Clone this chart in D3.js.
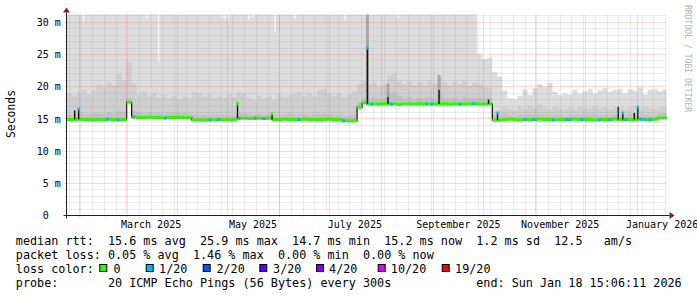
<!DOCTYPE html>
<html><head><meta charset="utf-8">
<script src="https://cdn.jsdelivr.net/npm/d3@7"></script>
<style>
html,body{margin:0;padding:0;background:#fff;}
svg{display:block;}
text{font-family:"DejaVu Sans Mono",monospace;white-space:pre;}
</style></head><body>
<svg id="c" width="697" height="297"></svg>
<script>
// ---------------- data ----------------
const startTime = new Date(2025,0,24,8,0,0);
const endTime = new Date(2026,0,18,15,6,11);
const binDays = 3;

const medianRtt = [
14.9,14.9,14.95,14.9,14.9,14.85,14.9,14.9,14.95,14.9,14.85,14.9,
17.6,
15.3,15.2,15.2,15.25,15.2,15.2,15.15,15.2,15.2,15.25,15.2,15.2,
14.85,14.85,14.8,14.85,14.85,14.9,14.85,14.85,14.9,
15.1,15.1,15.05,15.1,15.1,15.05,15.1,
14.9,14.9,14.95,14.9,14.9,14.9,14.95,14.9,14.9,14.9,14.9,14.95,14.9,14.9,
14.7,14.7,14.7,
16.8,17.5,
17.3,17.3,17.3,17.35,17.3,17.3,17.25,17.3,17.3,17.3,17.35,17.3,17.3,17.3,17.3,17.35,17.3,17.3,17.3,17.3,17.3,17.35,17.3,17.3,17.3,
14.8,14.8,
14.9,14.95,14.9,14.85,14.9,14.9,14.9,14.95,14.9,14.9,14.85,14.9,14.9,14.9,14.95,14.9,14.9,14.9,14.85,14.9,14.9,14.9,14.95,14.9,14.9,14.9,14.9,14.95,14.9,14.9,14.95,
15.15,15.15
];

const smokeMax = [
32,32,32,32,32,32,32,32,32,32, 32,32,32,32,32,32,32,32,32,32,
32,32,32,32,32,32,32,32,32,32, 32,32,32,32,32,32,32,32,32,32,
32,32,32,32,32,32,32,32,32,32, 32,32,32,32,32,32,32,32,32,32,
32,32,32,32,32,32,32,32,32,32, 32,32,32,32,32,32,32,32,32,32,
32,32,25.0,24.3,24.5,22.3,21.6,19.4,18.2,18.0,
18.6,19.6,18.8,19.8,20.4,20.0,20.6,19.2,18.7,19.0,
18.8,19.5,18.9,19.3,19.6,18.9,19.4,19.8,19.2,19.5,
19.7,19.0,19.6,19.4,19.9,18.8,19.5,19.7,19.3,19.6
];

const smokeMid = [
19.0,18.6,19.2,19.5,18.8,19.4,20.3,20.0,20.6,20.2,
22.0,21.0,23.8,20.5,18.8,19.2,18.5,18.9,18.3,18.7,
18.2,18.6,18.0,18.5,18.3,19.2,19.0,18.4,18.7,18.2,
18.6,18.3,18.8,18.4,19.1,19.0,18.3,18.0,18.6,18.2,
18.5,18.0,18.8,18.4,18.7,18.9,19.2,18.6,19.0,18.5,
19.5,19.6,18.9,18.6,18.9,18.4,18.7,19.3,20.5,21.0,
20.3,20.6,20.0,20.4,21.8,22.0,20.8,20.4,20.9,20.2,
20.7,20.3,21.0,20.5,21.5,20.6,20.2,20.8,20.4,20.9,
20.1,20.6,20.4,20.0,19.8,16.2,16.4,16.8,16.5,16.3,
16.9,16.6,17.1,16.7,17.2,16.8,16.5,16.9,16.6,16.4,
16.8,16.5,16.9,16.6,16.7,17.0,16.6,16.8,16.5,16.9,
16.7,16.4,16.8,17.0,16.6,16.9,16.7,16.5,16.8,16.9
];

const smokeInner = [
15.6,15.7,15.8,15.6,15.7,15.9,15.8,15.7,16.0,15.8,
16.2,16.0,18.2,16.3,15.9,15.8,16.0,15.8,15.9,15.8,
15.9,15.8,15.9,16.0,15.8,15.6,15.5,15.6,15.5,15.6,
15.5,15.6,15.5,15.6,15.9,15.8,15.7,15.6,15.7,15.6,
15.7,15.6,15.5,15.6,15.7,15.6,15.7,15.6,15.5,15.6,
15.7,15.8,15.6,15.5,15.6,15.4,15.5,15.6,17.6,18.3,
18.2,18.4,18.1,18.3,19.0,19.2,18.6,18.2,18.4,18.1,
18.3,18.2,18.4,18.1,18.8,18.3,18.2,18.3,18.1,18.4,
18.2,18.3,18.2,18.1,18.3,15.5,15.6,15.7,15.5,15.4,
15.6,15.5,15.7,15.6,15.6,15.5,15.4,15.6,15.5,15.4,
15.6,15.5,15.6,15.5,15.6,15.7,15.5,15.6,15.5,15.6,
15.5,15.4,15.6,15.7,15.5,15.6,15.5,15.4,15.8,15.9
];

// short excursions of the median (day offset from start, top value in ms, loss level index or -1)
const spikeDay   = [4.9, 7.3, 102.4, 123.1, 180.2, 192.5, 223.1, 252.7, 258.1, 330.4, 333.1, 340.0, 342.1];
const spikeTop   = [16.3,16.5, 17.4, 15.8, 26.0, 18.4, 19.5, 18.0, 15.9, 16.9, 15.9, 15.9, 16.8];
const spikeLoss  = [-1, 1, 0, 0, 1, -1, -1, -1, 1, -1, 1, -1, 1];
const spikeSmoke = [0, 0, 0, 0, 32, 20.5, 21.8, 0, 0, 0, 0, 0, 0];

// samples with 1/20 packet loss (day offset from start)
const lossDay = [24.7,30.8,40.1,59.2,86.1,91.1,103.5,113.1,118.1,139.1,166.0,182.8,194.7,215.7,218.7,
                 235.6,243.6,274.6,279.4,291.5,299.5,301.5,308.5,319.5,325.5,335.1,344.1,346.5,349.5];

// narrow drops of the maximum ping (day offset, max value in ms)
const dipDay = [10.3, 48.2, 55.2, 93.2, 95.0, 97.0, 109.3, 111.5, 124.9, 136.8, 166.8, 198.5];
const dipTop = [30.0, 30.5, 23.8, 30.6, 30.5, 30.7, 30.4, 30.7, 28.5, 30.6, 30.3, 30.7];

const yTicks = [0,5,10,15,20,25,30];
const yTickLabels = ["0  ","5 m","10 m","15 m","20 m","25 m","30 m"];
const xLabelMonths = [new Date(2025,2,1),new Date(2025,4,1),new Date(2025,6,1),new Date(2025,8,1),new Date(2025,10,1),new Date(2026,0,1)];
const xLabelTexts = ["March 2025","May 2025","July 2025","September 2025","November 2025","January 2026"];

const lossColors = ["#26ff00","#00b8ff","#0059ff","#5e00ff","#7e00ff","#dd00ff","#ff0000"];
const lossLabels = ["0","1/20","2/20","3/20","4/20","10/20","19/20"];

const legendLines = [
  "median rtt:  15.6 ms avg  25.9 ms max  14.7 ms min  15.2 ms now  1.2 ms sd  12.5   am/s",
  "packet loss: 0.05 % avg  1.46 % max  0.00 % min  0.00 % now",
  "loss color:",
  "probe:       20 ICMP Echo Pings (56 Bytes) every 300s            end: Sun Jan 18 15:06:11 2026"
];

// ---------------- layout ----------------
const legendBase = [244.6, 258.7, 272.8, 286.9];
const boxX = [99.3,145.7,202.7,259.3,316,377.7,441.7];
const boxLabelX = [114.3,160,217.3,274,330,391.7,456];

const X0=66.5, X1=666.5, Y0=215.5, Y1=15.5;
const svg = d3.select("#c");
const x = d3.scaleTime().domain([startTime,endTime]).range([X0,X1]);
const y = d3.scaleLinear().domain([0,31.06]).range([Y0,Y1]);
const dayDate = d => new Date(startTime.getTime()+d*864e5);
const snap = v => Math.round(v-0.5)+0.5;

svg.append("defs").append("clipPath").attr("id","plot")
  .append("rect").attr("x",X0).attr("y",Y1-1).attr("width",X1-X0).attr("height",Y0-Y1+1);

const g = svg.append("g").attr("clip-path","url(#plot)");

const n = medianRtt.length;
const idx = d3.range(n+1);
const val = (arr,i) => arr[Math.min(i,n-1)];
function smoke(arr, color){
  const area = d3.area().curve(d3.curveStepAfter)
    .x(i => x(dayDate(i*binDays)))
    .y0(i => y(val(medianRtt,i)))
    .y1(i => y(val(arr,i)));
  g.append("path").attr("d",area(idx)).attr("fill",color);
}
smoke(smokeMax,"#dddddd");
smoke(smokeMid,"#cfcfcf");
smoke(smokeInner,"#c2c2c2");

// narrow dips in the max envelope
dipDay.forEach((d,k)=>{
  g.append("rect").attr("x",x(dayDate(d))-0.6).attr("width",1.2)
   .attr("y",Y1-1).attr("height",y(dipTop[k])-(Y1-1)).attr("fill","#fff");
});
// darker smoke columns at spikes
spikeDay.forEach((d,k)=>{
  if(!spikeSmoke[k]) return;
  const m = medianRtt[Math.floor(d/binDays)];
  g.append("rect").attr("x",x(dayDate(d))-1.5).attr("width",3)
   .attr("y",y(spikeSmoke[k])).attr("height",y(m)-y(spikeSmoke[k])).attr("fill","#a8a8a8");
});

// grid
const gridMinor = "rgba(143,143,143,0.35)", gridMajor = "rgba(222,79,79,0.42)";
const weeks = d3.timeSunday.range(startTime,endTime);
const months = d3.timeMonth.range(startTime,endTime);
const gg = svg.append("g");
weeks.forEach(t=>{
  const xx = snap(x(t));
  gg.append("line").attr("x1",xx).attr("x2",xx).attr("y1",Y1).attr("y2",Y0+2)
    .attr("stroke",gridMinor).attr("stroke-dasharray","1,1");
});
months.forEach(t=>{
  const xx = snap(x(t));
  gg.append("line").attr("x1",xx).attr("x2",xx).attr("y1",Y1).attr("y2",Y0+2)
    .attr("stroke",gridMajor).attr("stroke-dasharray","1,1");
});
d3.range(1,32).forEach(v=>{
  const yy = snap(y(v));
  if (yy < Y1) return;
  const major = v%5===0;
  gg.append("line").attr("x1",X0-2).attr("x2",X1).attr("y1",yy).attr("y2",yy)
    .attr("stroke",major?gridMajor:gridMinor).attr("stroke-dasharray","1,1");
});

// median line: black step + loss-coloured horizontal segments
const stepLine = d3.line().curve(d3.curveStepAfter)
  .x(i => x(dayDate(i*binDays))).y(i => y(val(medianRtt,i)));
g.append("path").attr("d",stepLine(idx)).attr("fill","none").attr("stroke","#111").attr("stroke-width",1.2);
let segs = "";
for(let i=0;i<n;i++){
  const yy = y(medianRtt[i]);
  segs += `M${x(dayDate(i*binDays))},${yy}L${x(dayDate((i+1)*binDays))},${yy}`;
}
g.append("path").attr("d",segs).attr("fill","none").attr("stroke",lossColors[0]).attr("stroke-width",3);

// spikes
spikeDay.forEach((d,k)=>{
  const xx = x(dayDate(d));
  const m = medianRtt[Math.floor(d/binDays)];
  g.append("line").attr("x1",xx).attr("x2",xx).attr("y1",y(m)).attr("y2",y(spikeTop[k]))
    .attr("stroke","#111").attr("stroke-width",1.4);
  if(spikeLoss[k]>=0){
    g.append("rect").attr("x",xx-1.2).attr("y",y(spikeTop[k])-1.5).attr("width",2.4).attr("height",3)
      .attr("fill",lossColors[spikeLoss[k]]);
  }
});
// loss marks
lossDay.forEach(d=>{
  const m = medianRtt[Math.floor(d/binDays)];
  g.append("rect").attr("x",x(dayDate(d))-1.2).attr("y",y(m)-1.5).attr("width",2.4).attr("height",3)
    .attr("fill",lossColors[1]);
});

// axes
const axisCol = "#1f1f1f", arrowCol = "#801f1f";
svg.append("line").attr("x1",X0-3).attr("x2",X1+3).attr("y1",Y0).attr("y2",Y0).attr("stroke",axisCol);
svg.append("line").attr("x1",X0).attr("x2",X0).attr("y1",Y0+3).attr("y2",Y1-3).attr("stroke",axisCol);
svg.append("path").attr("d",`M${X1+3},${Y0-3.5}L${X1+8},${Y0}L${X1+3},${Y0+3.5}Z`).attr("fill",arrowCol);
svg.append("path").attr("d",`M${X0-3.5},${Y1-3}L${X0},${Y1-8}L${X0+3.5},${Y1-3}Z`).attr("fill",arrowCol);

// y tick labels
yTicks.forEach((v,k)=>{
  svg.append("text").attr("x",60.8).attr("y",y(v)+3.6).attr("text-anchor","end")
    .attr("font-size","10px").attr("fill","#000").text(yTickLabels[k]);
});
// x labels
xLabelMonths.forEach((t,k)=>{
  svg.append("text").attr("x",x(d3.timeDay.offset(t,15))).attr("y",228)
    .attr("text-anchor","middle").attr("font-size","10px").attr("fill","#000").text(xLabelTexts[k]);
});
// y title
svg.append("text").attr("transform","translate(15,114) rotate(-90)").attr("text-anchor","middle")
  .attr("font-size","11.4px").attr("fill","#000").text("Seconds");
// watermark
svg.append("text").attr("transform","translate(685,5) rotate(90)")
  .attr("font-size","8.1px").attr("fill","#b4b4b4").text("RRDTOOL / TOBI OETIKER");

// legend
const FS = "11.78px";
legendLines.forEach((t,k)=>{
  svg.append("text").attr("x",15.8).attr("y",legendBase[k]).attr("font-size",FS).attr("fill","#000").text(t);
});
lossLabels.forEach((l,k)=>{
  svg.append("rect").attr("x",boxX[k]+0.5).attr("y",264.5).attr("width",7).attr("height",7)
    .attr("fill",lossColors[k]).attr("stroke","#000").attr("stroke-width",1);
  svg.append("text").attr("x",boxLabelX[k]-0.9).attr("y",legendBase[2]).attr("font-size",FS).attr("fill","#000").text(l);
});
</script>
</body></html>
